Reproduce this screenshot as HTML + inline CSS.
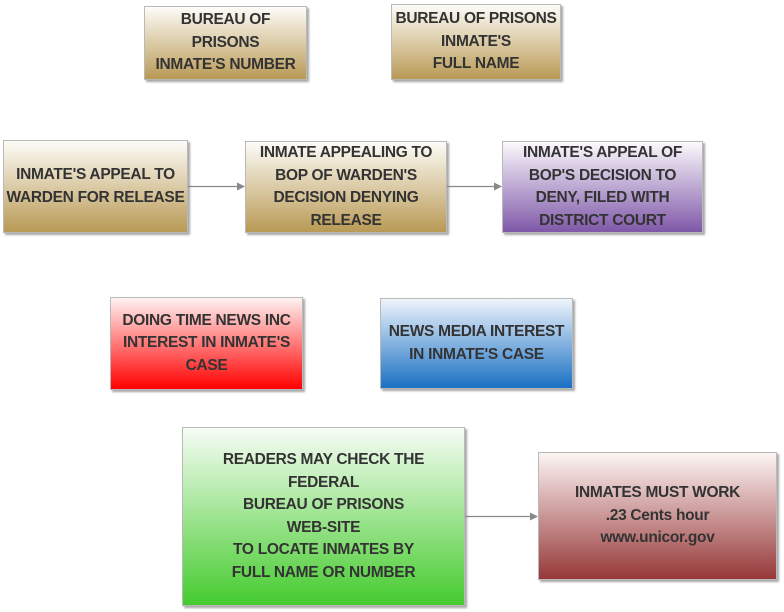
<!DOCTYPE html>
<html><head><meta charset="utf-8"><style>
html,body{margin:0;padding:0;background:#fff;width:784px;height:612px;overflow:hidden}
.b{position:absolute;box-sizing:border-box;border:1px solid #b9b9b9;box-shadow:2px 2px 2px rgba(0,0,0,.35);display:flex;align-items:center;justify-content:center;text-align:center;font-family:"Liberation Sans",sans-serif;font-weight:bold;font-size:15.5px;line-height:22.5px;color:#333;white-space:nowrap;letter-spacing:-0.3px}
.g{background:linear-gradient(#fdfcf8,#b99a55)}
.p{background:linear-gradient(#fbf9fd,#7f58a8)}
.r{background:linear-gradient(#fff2f2,#f00)}
.bl{background:linear-gradient(#eef4fb,#1a70c4)}
.gr{background:linear-gradient(#f7fdf5,#45cb2e)}
.m{background:linear-gradient(#fdf4f4,#963838)}
</style></head><body>
<div class="b g" style="left:144px;top:6px;width:163px;height:74px">BUREAU OF<br>PRISONS<br>INMATE'S NUMBER</div>
<div class="b g" style="left:391px;top:4px;width:170px;height:76px">BUREAU OF PRISONS<br>INMATE'S<br>FULL NAME</div>
<div class="b g" style="left:3px;top:140px;width:185px;height:93px">INMATE'S APPEAL TO<br>WARDEN FOR RELEASE</div>
<div class="b g" style="left:245px;top:141px;width:202px;height:92px">INMATE APPEALING TO<br>BOP OF WARDEN'S<br>DECISION DENYING<br>RELEASE</div>
<div class="b p" style="left:502px;top:141px;width:201px;height:92px">INMATE'S APPEAL OF<br>BOP'S DECISION TO<br>DENY, FILED WITH<br>DISTRICT COURT</div>
<div class="b r" style="left:110px;top:297px;width:193px;height:93px">DOING TIME NEWS INC<br>INTEREST IN INMATE'S<br>CASE</div>
<div class="b bl" style="left:380px;top:298px;width:193px;height:91px">NEWS MEDIA INTEREST<br>IN INMATE'S CASE</div>
<div class="b gr" style="left:182px;top:427px;width:283px;height:179px">READERS MAY CHECK THE<br>FEDERAL<br>BUREAU OF PRISONS<br>WEB-SITE<br>TO LOCATE INMATES BY<br>FULL NAME OR NUMBER</div>
<div class="b m" style="left:538px;top:452px;width:239px;height:128px">INMATES MUST WORK<br>.23 Cents hour<br>www.unicor.gov</div>
<svg width="784" height="612" style="position:absolute;left:0;top:0">
<g stroke="#888" stroke-width="1.2" fill="#888">
<line x1="188" y1="186.5" x2="238" y2="186.5"/><polygon points="237,182.5 245,186.5 237,190.5" stroke="none"/>
<line x1="447" y1="186.5" x2="495" y2="186.5"/><polygon points="494,182.5 502,186.5 494,190.5" stroke="none"/>
<line x1="465" y1="516.5" x2="531" y2="516.5"/><polygon points="530,512.5 538,516.5 530,520.5" stroke="none"/>
</g></svg>
</body></html>
